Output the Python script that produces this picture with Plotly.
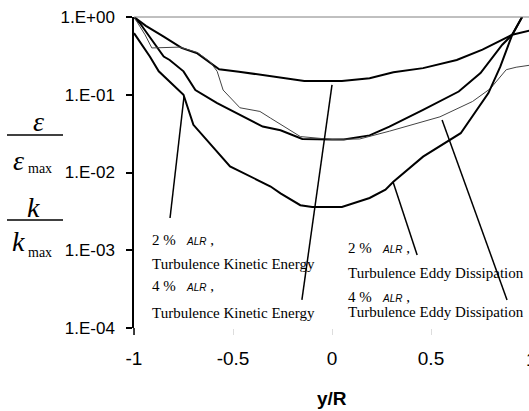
import plotly.graph_objects as go

# ---------------- data ----------------
# 4 % ALR, turbulence kinetic energy (top bold curve)
x_k4 = [-1.0, -0.94, -0.85, -0.76, -0.68, -0.62, -0.57, -0.47, -0.35, -0.25, -0.14,
        -0.05, 0.05, 0.19, 0.31, 0.46, 0.63, 0.76, 0.85, 0.91, 1.0]
y_k4 = [1.0, 0.77, 0.56, 0.40, 0.34, 0.266, 0.213, 0.198, 0.18, 0.163, 0.15,
        0.15, 0.15, 0.163, 0.195, 0.22, 0.28, 0.38, 0.49, 0.59, 0.67]

# middle bold curve
x_mid = [-1.0, -0.97, -0.85, -0.82, -0.75, -0.69, -0.58, -0.465, -0.35, -0.26, -0.15,
         0.0, 0.06, 0.19, 0.29, 0.46, 0.64, 0.75, 0.86, 0.91, 0.96]
y_mid = [1.0, 0.83, 0.31, 0.28, 0.20, 0.115, 0.078, 0.055, 0.039, 0.035, 0.027,
         0.0266, 0.0266, 0.030, 0.039, 0.064, 0.11, 0.19, 0.44, 0.59, 1.0]

# 4 % ALR, turbulence eddy dissipation (thin curve)
x_e4 = [-1.0, -0.944, -0.91, -0.77, -0.68, -0.616, -0.58, -0.55, -0.465, -0.364, -0.31,
        -0.26, -0.16, 0.0, 0.14, 0.29, 0.545, 0.71, 0.80, 0.88, 0.93, 1.0]
y_e4 = [1.0, 0.59, 0.40, 0.41, 0.35, 0.266, 0.20, 0.115, 0.068, 0.061, 0.050,
        0.042, 0.029, 0.0266, 0.027, 0.034, 0.052, 0.082, 0.12, 0.21, 0.226, 0.24]

# 2 % ALR (lowest bold curve)
x_low = [-1.0, -0.92, -0.875, -0.75, -0.70, -0.515, -0.31, -0.26, -0.16, -0.1, 0.05,
         0.19, 0.27, 0.31, 0.46, 0.58, 0.65, 0.79, 0.85, 0.91, 0.96]
y_low = [0.62, 0.31, 0.20, 0.10, 0.041, 0.012, 0.0066, 0.0054, 0.0038, 0.0036, 0.0036,
         0.0047, 0.006, 0.0076, 0.016, 0.025, 0.032, 0.105, 0.23, 0.59, 1.0]

y_tickvals = [1, 0.1, 0.01, 0.001, 0.0001]
y_ticktext = ["1.E+00", "1.E-01", "1.E-02", "1.E-03", "1.E-04"]
x_tickvals = [-1, -0.5, 0, 0.5]
x_ticktext = ["-1", "-0.5", "0", "0.5"]

# ---------------- layout geometry ----------------
W, H = 529, 411
L, R, T, B = 134, 0, 17, 83
PW = W - L - R
PH = H - T - B


def pxx(p):
    return (p - L) / PW


def pxy(p):
    return (H - B - p) / PH


SERIF = "Liberation Serif"
SANS = "Liberation Sans"

fig = go.Figure()

for xs, ys, w, c in [(x_k4, y_k4, 2, "black"), (x_mid, y_mid, 2, "black"),
                     (x_e4, y_e4, 1, "#444444"), (x_low, y_low, 2, "black")]:
    fig.add_trace(go.Scatter(x=xs, y=ys, mode="lines",
                             line=dict(color=c, width=w), showlegend=False,
                             hoverinfo="skip"))

# leader lines (text -> curve), in data coordinates
leaders = [
    ([-0.818, -0.747], [0.0026, 0.0966]),
    ([-0.152, 0.0], [0.00023, 0.134]),
    ([0.43, 0.308], [0.00087, 0.0076]),
    ([0.884, 0.556], [0.00023, 0.0475]),
]
for lx, ly in leaders:
    fig.add_trace(go.Scatter(x=lx, y=ly, mode="lines",
                             line=dict(color="black", width=1.5),
                             showlegend=False, hoverinfo="skip"))

annotations = []

def ann(text, x, y, size, family=SERIF, xanchor="left", yanchor="middle"):
    annotations.append(dict(text=text, x=pxx(x), y=pxy(y), xref="paper", yref="paper",
                            showarrow=False, xanchor=xanchor, yanchor=yanchor,
                            font=dict(family=family, size=size, color="black"),
                            borderpad=0))

alr = ("\u00a0\u00a0\u00a0<i><span style='font-family:Liberation Sans;font-size:10px'>"
       "ALR</span></i>\u00a0,")
ann("2 %" + alr, 151, 240, 15)
ann("Turbulence Kinetic Energy", 151, 264, 15)
ann("4 %" + alr, 151, 286, 15)
ann("Turbulence Kinetic Energy", 151, 313, 15)
ann("2 %" + alr, 347, 248, 15)
ann("Turbulence Eddy Dissipation", 347, 273, 15)
ann("4 %" + alr, 347, 297, 15)
ann("Turbulence Eddy Dissipation", 347, 312, 15)

# y-axis title (fractions)
ann("<i>ε</i>", 38, 121, 28, xanchor="center")
ann("<i>ε</i>", 18, 160, 28, xanchor="center")
ann("max", 40, 168, 14, xanchor="center")
ann("<i>k</i>", 33, 207, 28, xanchor="center")
ann("<i>k</i>", 18, 241, 28, xanchor="center")
ann("max", 40, 252, 14, xanchor="center")

# x-axis title and clipped last tick label
ann("<b>y/R</b>", 332, 398, 19, family=SANS, xanchor="center")
ann("1", 531, 359, 19, family=SANS, xanchor="center")

shapes = [
    dict(type="line", xref="paper", yref="paper", x0=0, x1=1, y0=1, y1=1,
         line=dict(color="#808080", width=1)),
    dict(type="line", xref="paper", yref="paper", x0=0, x1=0, y0=pxy(328), y1=pxy(335),
         line=dict(color="black", width=1.5)),
    dict(type="line", xref="paper", yref="paper", x0=pxx(7), x1=pxx(63),
         y0=pxy(135), y1=pxy(135), line=dict(color="black", width=1.5)),
    dict(type="line", xref="paper", yref="paper", x0=pxx(7), x1=pxx(63),
         y0=pxy(220), y1=pxy(220), line=dict(color="black", width=1.5)),
]

fig.update_layout(
    width=W, height=H,
    margin=dict(l=L, r=R, t=T, b=B, pad=0),
    paper_bgcolor="white", plot_bgcolor="white",
    showlegend=False,
    annotations=annotations,
    shapes=shapes,
    xaxis=dict(range=[-1, -1 + PW / 198.0], tickvals=x_tickvals, ticktext=x_ticktext,
               showline=False, showgrid=False, zeroline=False,
               ticks="outside", ticklen=6, tickcolor="#dddddd",
               ticklabelstandoff=7,
               tickfont=dict(family=SANS, size=19, color="black")),
    yaxis=dict(type="log", range=[-4, 0], tickvals=y_tickvals, ticktext=y_ticktext,
               showline=True, linecolor="black", linewidth=1.5,
               showgrid=False, zeroline=False,
               ticks="outside", ticklen=6, tickcolor="black", tickwidth=1.5,
               ticklabelstandoff=8,
               tickfont=dict(family=SANS, size=17, color="black")),
)

fig.write_html("out.html")
